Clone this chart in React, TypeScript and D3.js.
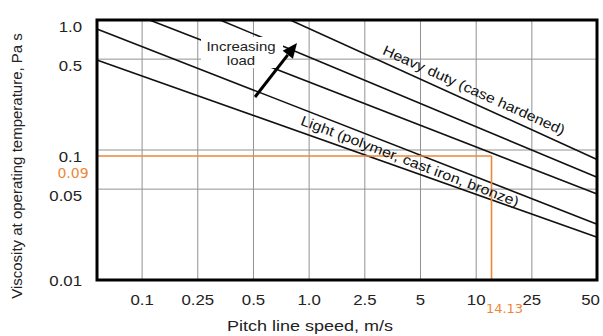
import React from 'react';
import * as d3 from 'd3';

// axis ticks
const speedTicks = [0.1, 0.25, 0.5, 1, 2.5, 5, 10, 25, 50];
const speedLabels = ['0.1', '0.25', '0.5', '1.0', '2.5', '5', '10', '25', '50'];
const viscTicks = [1, 0.5, 0.1, 0.05, 0.01];
const viscLabels = ['1.0', '0.5', '0.1', '0.05', '0.01'];
const viscGrid = [0.5, 0.1, 0.05];

// load lines, top (heavy duty) to bottom (light)
const lineStartSpeed = [0.83, 0.35, 0.12, 0.06, 0.06];
const lineStartVisc = [1.0, 1.0, 1.0, 0.85, 0.49];
const lineEndSpeed = [54, 54, 54, 54, 54];
const lineEndVisc = [0.085, 0.062, 0.046, 0.027, 0.0214];

// operating point
const opSpeed = 14.13;
const opVisc = 0.09;

const W = 603;
const H = 336;
const left = 97, right = 597, top = 20, bottom = 280;
const orange = '#ef8636';
const font = '"Liberation Sans", Arial, sans-serif';

// x axis is evenly spaced between ticks, linear inside each step
const speedIndex = d3.scaleLinear()
  .domain([0.05, ...speedTicks])
  .range(d3.range(-1, speedTicks.length));
const idxToPx = d3.scaleLinear().domain([-0.81, 8.17]).range([left, right]);
const x = (v: number) => idxToPx(speedIndex(v));
const y = d3.scaleLog().domain([0.01, 1]).range([bottom, top]);

const Wide = ({ x, y, size = 14, anchor = 'middle', fill = '#222', children }: any) => (
  <g transform={`translate(${x},${y}) scale(1.2,1)`}>
    <text textAnchor={anchor} dy="0.35em" fontSize={size} fill={fill} fontFamily={font}>
      {children}
    </text>
  </g>
);

const App = () => {
  const line = d3.line<[number, number]>().x((d) => x(d[0])).y((d) => y(d[1]));

  // arrow for "Increasing load"
  const a0: [number, number] = [255, 97];
  const a1: [number, number] = [297, 43];
  const dx = a1[0] - a0[0], dy = a1[1] - a0[1];
  const len = Math.hypot(dx, dy);
  const ux = dx / len, uy = dy / len;
  const bx = a1[0] - 15 * ux, by = a1[1] - 15 * uy;
  const head = [
    [a1[0], a1[1]],
    [bx + 6.5 * -uy, by + 6.5 * ux],
    [bx - 6.5 * -uy, by - 6.5 * ux],
  ].map((p) => p.join(',')).join(' ');

  return (
    <svg width={W} height={H} style={{ position: 'absolute', left: 0, top: 0, background: '#fff' }}>
      <defs>
        <clipPath id="plot">
          <rect x={left} y={top} width={right - left} height={bottom - top} />
        </clipPath>
      </defs>

      {/* grid */}
      <g stroke="#929292" strokeWidth={1}>
        {speedTicks.slice(0, -1).map((s) => (
          <line key={s} x1={x(s)} x2={x(s)} y1={top} y2={bottom} />
        ))}
        {viscGrid.map((v) => (
          <line key={v} x1={left} x2={right} y1={y(v)} y2={y(v)} />
        ))}
      </g>

      {/* load lines */}
      <g clipPath="url(#plot)" fill="none" stroke="#111" strokeWidth={1.6}>
        {lineStartSpeed.map((s, i) => (
          <path
            key={i}
            d={line([[s, lineStartVisc[i]], [lineEndSpeed[i], lineEndVisc[i]]]) || ''}
          />
        ))}
      </g>

      {/* operating point */}
      <g stroke={orange} strokeWidth={1.6} fill="none">
        <line x1={left} x2={x(opSpeed)} y1={y(opVisc)} y2={y(opVisc)} />
        <line x1={x(opSpeed)} x2={x(opSpeed)} y1={y(opVisc)} y2={bottom} />
      </g>

      {/* frame */}
      <rect x={left} y={top} width={right - left} height={bottom - top} fill="none" stroke="#000" strokeWidth={3} />

      {/* Increasing load */}
      <rect x={201} y={37} width={82} height={31} fill="#fff" />
      <Wide x={241} y={47} size={12.5}>Increasing</Wide>
      <Wide x={241} y={61} size={12.5}>load</Wide>
      <line x1={a0[0]} y1={a0[1]} x2={bx} y2={by} stroke="#000" strokeWidth={3} />
      <polygon points={head} fill="#000" />

      {/* line labels */}
      <text
        transform="translate(474,90) rotate(24.3)"
        textAnchor="middle"
        dy="0.35em"
        fontSize={14}
        fontFamily={font}
        fill="#111"
        textLength={198}
        lengthAdjust="spacingAndGlyphs"
      >
        Heavy duty (case hardened)
      </text>
      <text
        transform="translate(410,161) rotate(20.8)"
        textAnchor="middle"
        dy="0.35em"
        fontSize={14}
        fontFamily={font}
        fill="#111"
        textLength={232}
        lengthAdjust="spacingAndGlyphs"
      >
        Light (polymer, cast iron, bronze)
      </text>

      {/* x ticks */}
      {speedTicks.map((s, i) => (
        <Wide key={s} x={Math.min(x(s), 590) + (i === speedTicks.length - 1 ? 3 : 0)} y={300}>
          {speedLabels[i]}
        </Wide>
      ))}
      {/* y ticks */}
      {viscTicks.map((v, i) => (
        <Wide key={v} x={82} y={Math.min(y(v) + 7, bottom + 1)} anchor="end">
          {viscLabels[i]}
        </Wide>
      ))}

      {/* orange labels */}
      <text x={73} y={y(opVisc) + 17} textAnchor="middle" dy="0.35em" fontSize={14}
        fontFamily='"DejaVu Sans", sans-serif' fill={orange}>0.09</text>
      <text x={x(opSpeed) + 13} y={308} textAnchor="middle" dy="0.35em" fontSize={13}
        fontFamily='"DejaVu Sans", sans-serif' fill={orange}>14.13</text>

      {/* titles */}
      <Wide x={310} y={326} size={15}>Pitch line speed, m/s</Wide>
      <text transform="translate(17,166) rotate(-90)" textAnchor="middle" dy="0.35em"
        fontSize={15} fontFamily={font} fill="#222">
        Viscosity at operating temperature, Pa s
      </text>
    </svg>
  );
};

export default App;
